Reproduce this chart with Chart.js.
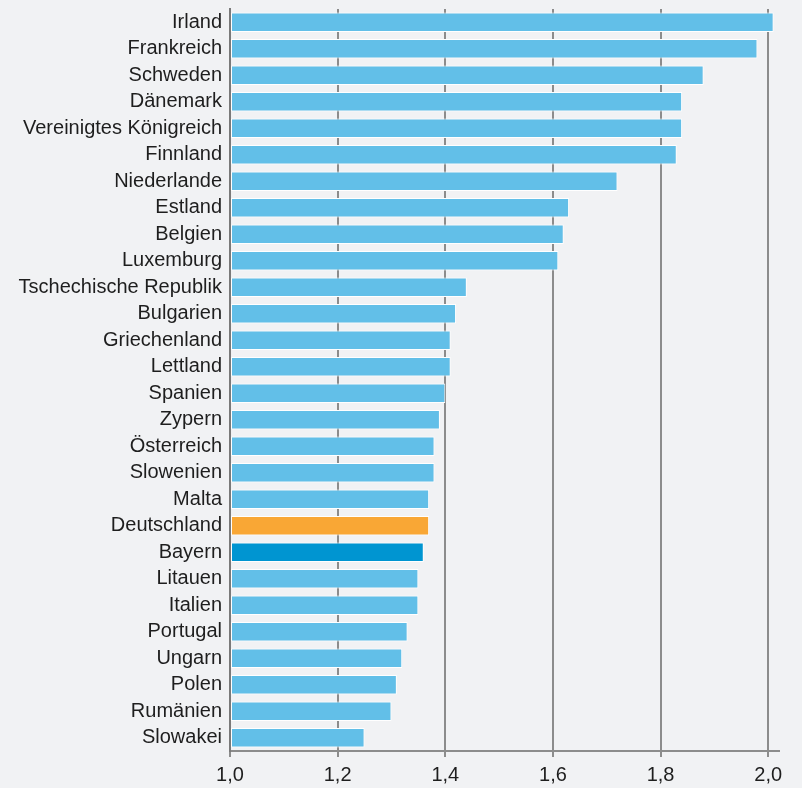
<!DOCTYPE html>
<html>
<head>
<meta charset="utf-8">
<script src="https://cdn.jsdelivr.net/npm/chart.js@4/dist/chart.umd.min.js"></script>
<style>
  html, body { margin: 0; padding: 0; background: #f1f2f4; }
  #wrap { width: 802px; height: 788px; }
</style>
</head>
<body>
<div id="wrap"><canvas id="c" width="802" height="788"></canvas></div>
<script>
const categories = ["Irland","Frankreich","Schweden","Dänemark","Vereinigtes Königreich","Finnland","Niederlande","Estland","Belgien","Luxemburg","Tschechische Republik","Bulgarien","Griechenland","Lettland","Spanien","Zypern","Österreich","Slowenien","Malta","Deutschland","Bayern","Litauen","Italien","Portugal","Ungarn","Polen","Rumänien","Slowakei"];
const values = [2.01,1.98,1.88,1.84,1.84,1.83,1.72,1.63,1.62,1.61,1.44,1.42,1.41,1.41,1.40,1.39,1.38,1.38,1.37,1.37,1.36,1.35,1.35,1.33,1.32,1.31,1.30,1.25];
const tickValues = [1.0,1.2,1.4,1.6,1.8,2.0];
const highlight = { "Deutschland": "#f9a735", "Bayern": "#0095d1" };
const baseColor = "#62bfe8";

const barColors = categories.map(c => highlight[c] || baseColor);
const fontFamily = '"Liberation Sans", Arial, Helvetica, sans-serif';

new Chart(document.getElementById('c'), {
  type: 'bar',
  data: {
    labels: categories,
    datasets: [{
      data: values,
      backgroundColor: barColors,
      borderColor: '#ffffff',
      borderWidth: 1,
      borderSkipped: false,
      barPercentage: 0.74,
      categoryPercentage: 1.0,
      base: 1.0
    }]
  },
  options: {
    indexAxis: 'y',
    responsive: false,
    animation: false,
    layout: { padding: { top: 9, right: 23, left: 0, bottom: 0 } },
    plugins: { legend: { display: false }, tooltip: { enabled: false } },
    scales: {
      x: {
        type: 'linear',
        min: 1.0,
        max: 2.02,
        afterBuildTicks: s => { s.ticks = tickValues.map(v => ({ value: v })); },
        afterFit: s => { s.height = 37; s.paddingLeft = 0; s.paddingRight = 0; },
        ticks: {
          color: '#1e1e1e',
          font: { family: fontFamily, size: 20 },
          padding: 6,
          maxRotation: 0,
          autoSkip: false,
          callback: v => Number(v).toFixed(1).replace('.', ',')
        },
        grid: { color: '#8c8c8c', lineWidth: 2, tickLength: 6, drawTicks: true },
        border: { display: true, color: '#8c8c8c', width: 2 }
      },
      y: {
        afterFit: s => { s.width = 230; s.paddingTop = 0; s.paddingBottom = 0; },
        ticks: {
          color: '#1e1e1e',
          font: { family: fontFamily, size: 20 },
          padding: 8,
          autoSkip: false
        },
        grid: { display: false, drawTicks: false },
        border: { display: true, color: '#7a7a7a', width: 2 }
      }
    }
  }
});
</script>
</body>
</html>
